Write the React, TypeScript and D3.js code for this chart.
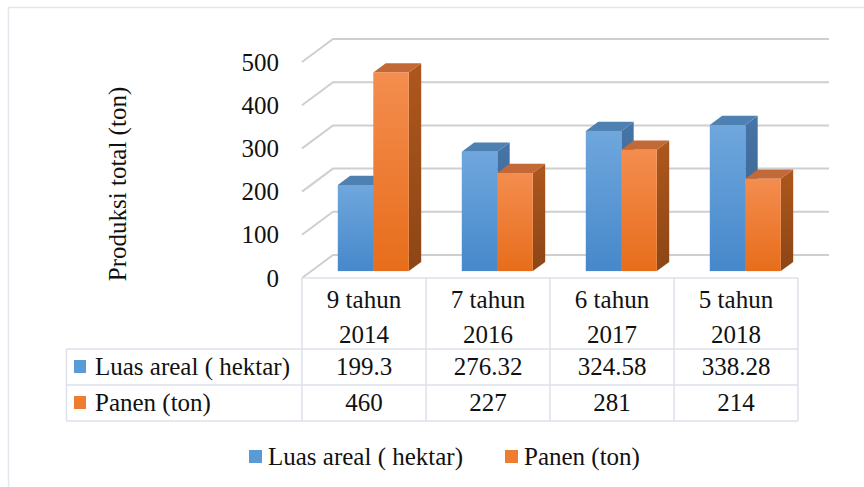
import React from "react";
import * as d3 from "d3";

const categories = ["9 tahun|2014", "7 tahun|2016", "6 tahun|2017", "5 tahun|2018"];
const luasAreal = [199.3, 276.32, 324.58, 338.28];
const panen = [460, 227, 281, 214];
const luasLabels = ["199.3", "276.32", "324.58", "338.28"];
const panenLabels = ["460", "227", "281", "214"];
const yTicks = [0, 100, 200, 300, 400, 500];
const seriesNames = ["Luas areal ( hektar)", "Panen (ton)"];

const W = 864;
const H = 487;
const FONT = '"Liberation Serif", "Tinos", "Times New Roman", "DejaVu Serif", serif';

// depth of the 3d box
const DX = 31;
const DY = -23;

const colors = [
  { top: "#6fa7dd", bottom: "#4688cb", cap: "#4f80b2", side: "#3f6996", key: "#5b9bd5" },
  { top: "#f48d4f", bottom: "#e76d1b", cap: "#c26937", side: "#9c4e19", key: "#ed7d31" },
];

export default function App() {
  const x = d3.scaleBand<string>().domain(categories).range([302, 798]);
  const inner = d3
    .scaleBand<number>()
    .domain([0, 1])
    .range([0, x.bandwidth()])
    .paddingOuter(0.746)
    .paddingInner(0);
  const y = d3.scaleLinear().domain([0, 500]).range([278, 62]);

  const series = [luasAreal, panen];
  const d0 = 0.3; // bar front depth
  const d1 = 0.7; // bar back depth

  const bars: React.ReactNode[] = [];
  categories.forEach((c, i) => {
    [0, 1].forEach((s) => {
      const v = series[s][i];
      const x0 = (x(c) as number) + (inner(s) as number) + DX * d0;
      const w = inner.bandwidth();
      const yb = y(0) + DY * d0;
      const yt = y(v) + DY * d0;
      const ddx = DX * (d1 - d0);
      const ddy = DY * (d1 - d0);
      bars.push(
        <g key={`${c}-${s}`}>
          <polygon
            points={`${x0 + w},${yt} ${x0 + w + ddx},${yt + ddy} ${x0 + w + ddx},${yb + ddy} ${x0 + w},${yb}`}
            fill={`url(#side${s})`}
          />
          <polygon
            points={`${x0},${yt} ${x0 + ddx},${yt + ddy} ${x0 + w + ddx},${yt + ddy} ${x0 + w},${yt}`}
            fill={colors[s].cap}
          />
          <rect x={x0} y={yt} width={w} height={yb - yt} fill={`url(#front${s})`} />
        </g>
      );
    });
  });

  const colLines = [...categories.map((c) => x(c) as number), 798];
  const rowY = [278, 349, 385, 421];

  return (
    <svg width={W} height={H} style={{ position: "absolute", left: 0, top: 0, fontFamily: FONT }}>
      <defs>
        {colors.map((c, s) => (
          <React.Fragment key={s}>
            <linearGradient id={`front${s}`} x1="0" y1="0" x2="0" y2="1">
              <stop offset="0" stopColor={c.top} />
              <stop offset="1" stopColor={c.bottom} />
            </linearGradient>
            <linearGradient id={`side${s}`} x1="0" y1="0" x2="0" y2="1">
              <stop offset="0" stopColor={d3.color(c.side)!.brighter(0.3).formatHex()} />
              <stop offset="1" stopColor={d3.color(c.side)!.darker(0.3).formatHex()} />
            </linearGradient>
          </React.Fragment>
        ))}
      </defs>
      <rect x={0} y={0} width={W} height={H} fill="#fff" />
      <rect x={8.5} y={7.5} width={W + 20} height={H + 20} fill="none" stroke="#e4e7ee" strokeWidth={1.5} />

      {/* grid */}
      {yTicks.map((t) => (
        <g key={t}>
          <polyline
            points={`${302},${y(t)} ${302 + DX},${y(t) + DY} ${798 + DX},${y(t) + DY}`}
            fill="none"
            stroke="#cfcfd2"
            strokeWidth={2}
          />
          <text x={279} y={y(t)} textAnchor="end" dominantBaseline="central" fontSize={25} fill="#111">
            {t}
          </text>
        </g>
      ))}

      {bars}

      <text
        transform={`translate(126,184) rotate(-90)`}
        textAnchor="middle"
        fontSize={25}
        fill="#111"
      >
        Produksi total (ton)
      </text>

      {/* data table */}
      <g stroke="#dde1e9" strokeWidth={1.5} fill="none">
        <line x1={302} x2={798} y1={rowY[0]} y2={rowY[0]} />
        {rowY.slice(1).map((ry) => (
          <line key={ry} x1={66.5} x2={798} y1={ry} y2={ry} />
        ))}
        <line x1={66.5} x2={66.5} y1={rowY[1]} y2={rowY[3]} />
        {colLines.map((cx) => (
          <line key={cx} x1={cx} x2={cx} y1={rowY[0]} y2={rowY[3]} />
        ))}
      </g>
      {categories.map((c) => {
        const [a, b] = c.split("|");
        const cx = (x(c) as number) + x.bandwidth() / 2;
        return (
          <g key={c} fontSize={25} fill="#111" textAnchor="middle">
            <text x={cx} y={308}>{a}</text>
            <text x={cx} y={343}>{b}</text>
          </g>
        );
      })}
      {[luasLabels, panenLabels].map((labels, r) => (
        <g key={r} fontSize={25} fill="#111" textAnchor="middle">
          {labels.map((l, i) => (
            <text key={i} x={(x(categories[i]) as number) + x.bandwidth() / 2} y={rowY[r + 1] + 26}>
              {l}
            </text>
          ))}
          <rect x={74} y={(rowY[r + 1] + rowY[r + 2]) / 2 - 7} width={12} height={13} fill={colors[r].key} />
          <text x={95} y={rowY[r + 1] + 26} textAnchor="start">
            {seriesNames[r]}
          </text>
        </g>
      ))}

      {/* legend */}
      {seriesNames.map((n, i) => {
        const lx = [249, 505][i];
        return (
          <g key={n}>
            <rect x={lx} y={450} width={13} height={13} fill={colors[i].key} />
            <text x={lx + 19} y={465} fontSize={25} fill="#111">
              {n}
            </text>
          </g>
        );
      })}
    </svg>
  );
}
